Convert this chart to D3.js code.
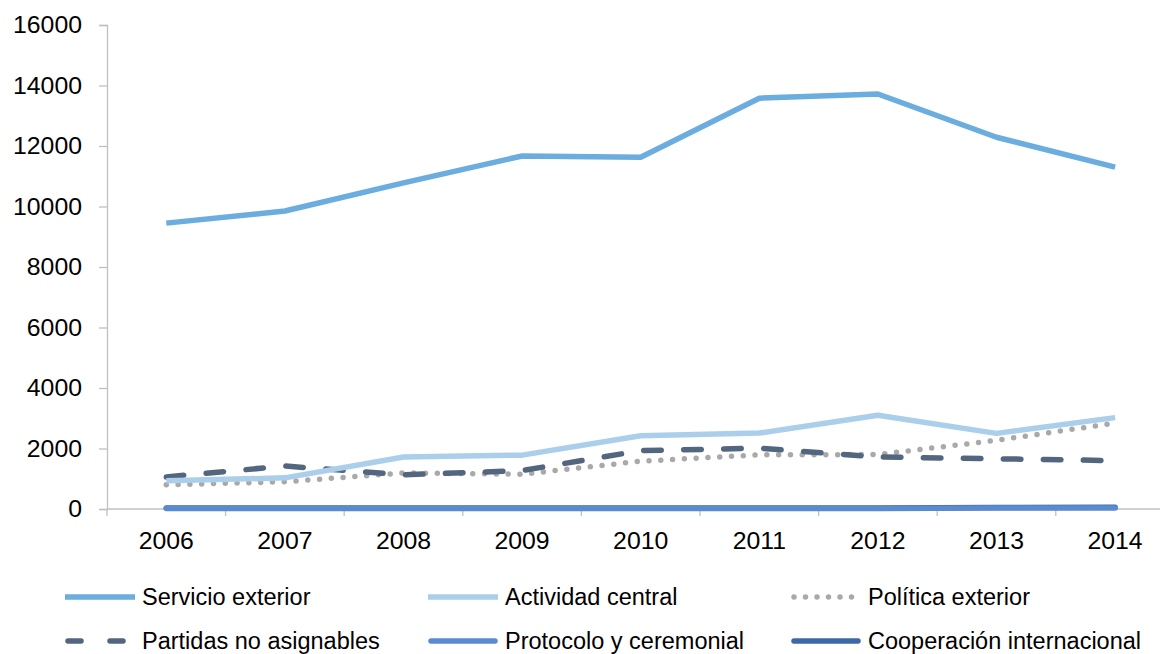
<!DOCTYPE html>
<html><head><meta charset="utf-8">
<script src="https://cdn.jsdelivr.net/npm/d3@7"></script>
<style>
html,body{margin:0;padding:0;background:#fff;overflow:hidden}
svg{display:block;font-family:"Liberation Sans",Arial,sans-serif}
</style></head>
<body><svg id="c" width="1160" height="654"></svg>
<script>
const years = ["2006","2007","2008","2009","2010","2011","2012","2013","2014"];
const yTicks = [0,2000,4000,6000,8000,10000,12000,14000,16000];
const servicioExterior = [9450,9850,10780,11670,11630,13580,13720,12290,11300];
const actividadCentral = [930,1030,1720,1780,2420,2510,3100,2500,3020];
const politicaExterior = [800,900,1190,1150,1580,1790,1800,2270,2840];
const partidasNoAsignables = [1060,1420,1130,1270,1930,2010,1720,1660,1600];
const protocoloCeremonial = [20,20,20,20,20,20,20,30,30];
const cooperacionInternacional = [30,30,30,30,30,30,30,50,60];
const seriesNames = ["Servicio exterior","Actividad central","Política exterior","Partidas no asignables","Protocolo y ceremonial","Cooperación internacional"];

const series = [
  {name:seriesNames[0], values:servicioExterior, color:"#6AADDE", dash:null, cap:"butt"},
  {name:seriesNames[1], values:actividadCentral, color:"#ABCEEB", dash:null, cap:"butt"},
  {name:seriesNames[2], values:politicaExterior, color:"#A9A9A9", dash:"0,11.8", cap:"round"},
  {name:seriesNames[3], values:partidasNoAsignables, color:"#53667F", dash:"17.5,22.5", cap:"round"},
  {name:seriesNames[4], values:protocoloCeremonial, color:"#5A8AD0", dash:null, cap:"round"},
  {name:seriesNames[5], values:cooperacionInternacional, color:"#3D68A8", dash:null, cap:"round"}
];

const svg = d3.select("#c");
const x0 = 107, step = 118.6;
const x = d3.scaleBand().domain(years).range([x0, x0 + step*years.length]).padding(0);
const y = d3.scaleLinear().domain([0,16000]).range([509,25]);

// Y axis
const yAxis = svg.append("g").attr("transform",`translate(${x0},0)`)
  .call(d3.axisLeft(y).tickValues(yTicks).tickSize(8).tickPadding(17).tickFormat(d3.format("d")));
yAxis.select(".domain").attr("stroke","#C0C0C0").attr("stroke-width",1.3);
yAxis.selectAll(".tick line").attr("stroke","#C0C0C0").attr("stroke-width",1.3);
yAxis.selectAll(".tick text").attr("font-size",24.8).attr("fill","#000").attr("font-family","Liberation Sans, Arial, sans-serif");

// X axis
const xAxisG = svg.append("g").attr("transform",`translate(0,${y(0)})`);
xAxisG.append("line").attr("x1",x0).attr("x2",x0 + step*years.length).attr("stroke","#C0C0C0").attr("stroke-width",1.3);
const bounds = d3.range(years.length+1).map(i => x0 + i*step);
xAxisG.selectAll("line.tk").data(bounds).join("line").attr("class","tk")
  .attr("x1",d=>d).attr("x2",d=>d).attr("y1",0).attr("y2",7)
  .attr("stroke","#C0C0C0").attr("stroke-width",1.3);
xAxisG.selectAll("text").data(years).join("text")
  .attr("x",d=>x(d)+x.bandwidth()/2).attr("y",40)
  .attr("text-anchor","middle").attr("font-size",24.8).attr("fill","#000").text(d=>d);

// Lines
const line = d3.line().x((d,i)=>x(years[i])+x.bandwidth()/2).y(d=>y(d));
const drawOrder = [5,4,2,3,1,0];
drawOrder.forEach(k => {
  const s = series[k];
  svg.append("path").datum(s.values).attr("d",line)
    .attr("fill","none").attr("stroke",s.color).attr("stroke-width",5.5)
    .attr("stroke-linejoin","round").attr("stroke-linecap",s.cap)
    .attr("stroke-dasharray",s.dash);
});

// Legend
const legX = [65, 428, 791];
const legY = [597, 641];
series.forEach((s,i) => {
  const col = i%3, row = Math.floor(i/3);
  const g = svg.append("g").attr("transform",`translate(${legX[col]},${legY[row]})`);
  g.append("line").attr("x1",s.cap==="round"?3:0).attr("x2",s.cap==="round"?67:70).attr("y1",0).attr("y2",0)
    .attr("stroke",s.color).attr("stroke-width",5.5).attr("stroke-linecap",s.cap)
    .attr("stroke-dasharray",s.dash ? (s.dash.startsWith("0,") ? "0,11.5" : "13,29") : null);
  g.append("text").attr("x",77).attr("y",8).attr("font-size",23.5).attr("fill","#000").text(s.name);
});
</script></body></html>
